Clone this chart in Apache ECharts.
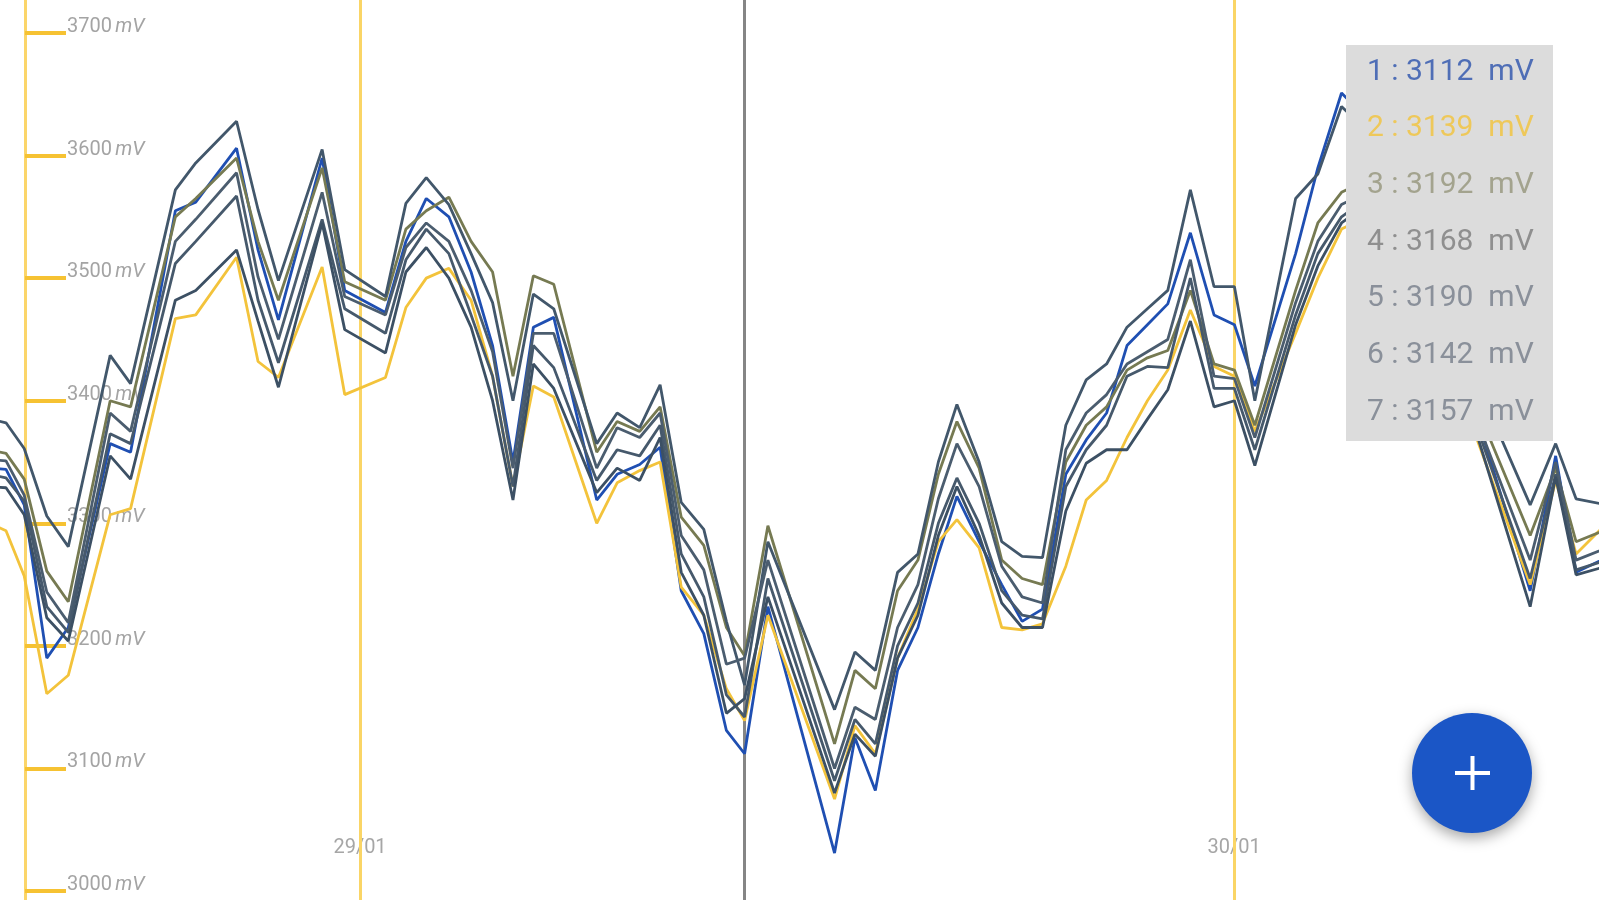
<!DOCTYPE html>
<html>
<head>
<meta charset="utf-8">
<script src="https://cdn.jsdelivr.net/npm/echarts@6/dist/echarts.min.js"></script>
<style>
html,body{margin:0;padding:0;background:#fff;}
#chart{width:1599px;height:900px;}
</style>
</head>
<body>
<div id="chart"></div>
<script>
// time of each sample, in hours since 28/01 00:00
const hours = [13.83,14.28,14.78,15.40,15.99,17.14,17.70,18.93,19.49,20.61,21.20,21.76,22.96,23.58,24.70,25.26,25.82,26.44,27.05,27.64,28.20,28.76,29.32,30.50,31.06,31.68,32.24,32.82,33.44,34.06,34.56,35.20,37.03,37.59,38.15,38.76,39.32,39.88,40.39,41.00,41.62,42.18,42.74,43.38,43.94,44.50,45.06,45.62,46.18,46.80,47.45,48.01,48.57,49.69,50.30,50.95,51.65,52.77,54.59,56.13,56.83,57.39,58.23];

const cell1 = [3345,3344,3315,3190,3215,3365,3358,3555,3562,3606,3523,3466,3598,3490,3472,3530,3565,3550,3505,3445,3350,3460,3468,3319,3340,3348,3362,3245,3210,3131,3112,3232,3031,3125,3082,3180,3215,3275,3322,3285,3250,3220,3230,3340,3368,3390,3445,3462,3479,3537,3470,3462,3412,3520,3590,3651,3630,3590,3395,3245,3355,3260,3272];
const cell2 = [3300,3294,3257,3161,3176,3307,3312,3467,3470,3517,3432,3419,3509,3405,3419,3476,3500,3508,3482,3420,3330,3412,3403,3300,3333,3343,3350,3248,3225,3165,3139,3225,3075,3135,3112,3190,3230,3285,3303,3280,3215,3213,3218,3265,3319,3335,3370,3400,3425,3474,3428,3420,3375,3455,3500,3540,3550,3535,3375,3250,3335,3275,3300];
const cell3 = [3360,3357,3336,3261,3236,3400,3395,3550,3565,3598,3530,3482,3590,3497,3482,3540,3555,3566,3530,3505,3420,3502,3495,3358,3383,3375,3395,3305,3282,3215,3192,3298,3120,3180,3165,3245,3270,3340,3383,3345,3270,3255,3250,3350,3380,3395,3425,3435,3441,3490,3430,3425,3380,3490,3545,3570,3580,3560,3400,3290,3345,3285,3295];
const cell4 = [3385,3382,3361,3306,3281,3437,3414,3572,3594,3628,3556,3498,3605,3507,3485,3561,3582,3560,3520,3480,3400,3487,3475,3365,3390,3378,3413,3317,3295,3220,3168,3285,3148,3195,3180,3260,3275,3350,3397,3350,3285,3273,3272,3380,3417,3430,3460,3475,3490,3572,3493,3493,3400,3565,3585,3640,3620,3600,3420,3315,3365,3320,3315];
const cell5 = [3352,3351,3323,3244,3219,3390,3375,3530,3548,3586,3501,3450,3570,3485,3470,3525,3545,3530,3490,3440,3345,3455,3455,3345,3378,3370,3390,3290,3262,3185,3190,3270,3100,3150,3140,3215,3250,3320,3365,3330,3265,3240,3235,3360,3390,3405,3430,3440,3450,3515,3420,3418,3370,3480,3530,3560,3570,3555,3390,3270,3350,3270,3280];
const cell6 = [3340,3337,3318,3232,3211,3373,3365,3512,3530,3567,3482,3431,3548,3475,3455,3515,3540,3520,3470,3420,3330,3445,3427,3335,3360,3355,3380,3275,3240,3160,3142,3255,3090,3140,3120,3200,3235,3300,3337,3300,3245,3225,3222,3330,3360,3380,3420,3428,3427,3500,3410,3410,3360,3470,3520,3550,3565,3550,3385,3255,3340,3262,3270];
const cell7 = [3330,3329,3307,3223,3204,3355,3336,3482,3490,3523,3465,3411,3545,3458,3439,3505,3525,3500,3460,3400,3319,3430,3410,3325,3345,3335,3370,3260,3225,3145,3157,3240,3080,3128,3110,3190,3225,3290,3330,3290,3235,3215,3215,3310,3349,3360,3360,3385,3409,3465,3395,3400,3347,3462,3510,3545,3560,3545,3380,3232,3338,3258,3265];

const seriesLabels = ['1','2','3','4','5','6','7'];
const seriesColors = ['#1f4fb2','#f3c33b','#767a52','#42576b','#4b5d6f','#46596c','#3c5064'];
const tipColors = ['#4f6eb6','#eec85a','#a3a38e','#8f8f8f','#8a909a','#8a909a','#8a909a'];
const unit = 'mV';

const yTicks = [3000,3100,3200,3300,3400,3500,3600,3700];
const dayTicks = [24,48];
const dayLabels = ['29/01','30/01'];
const cursorIndex = 30;

const allCells = [cell1,cell2,cell3,cell4,cell5,cell6,cell7];

const chart = echarts.init(document.getElementById('chart'), null, {renderer:'canvas'});

const series = allCells.map((vals, i) => ({
  name: seriesLabels[i],
  type: 'line',
  data: hours.map((h, k) => [h, vals[k]]),
  showSymbol: false,
  symbol: 'none',
  smooth: false,
  lineStyle: {color: seriesColors[i], width: 2.8},
  itemStyle: {color: seriesColors[i]},
  z: 5,
  silent: true
}));

// background vertical lines (day separators + cursor)
series.unshift({
  type: 'line',
  data: hours.map((h, k) => [h, cell1[k]]),
  showSymbol: false,
  lineStyle: {opacity: 0},
  z: 1,
  silent: true,
  markLine: {
    silent: true,
    symbol: ['none','none'],
    label: {show: false},
    animation: false,
    data: [
      ...dayTicks.map(d => ({xAxis: d, lineStyle: {color: '#fad566', width: 3, type: 'solid'}})),
      {xAxis: hours[cursorIndex], lineStyle: {color: '#858585', width: 3, type: 'solid'}}
    ]
  }
});

const tipGraphics = [{
  type: 'rect',
  shape: {x: 1346, y: 45, width: 207, height: 396},
  style: {fill: '#dcdcdc'},
  z: 100
}];
allCells.forEach((vals, i) => {
  tipGraphics.push({
    type: 'text',
    x: 1367,
    y: 72 + i * 56.7,
    style: {
      text: seriesLabels[i] + ' : ' + vals[cursorIndex] + '  ' + unit,
      fill: tipColors[i],
      font: '30px Roboto',
      verticalAlign: 'middle'
    },
    z: 101
  });
});

const fab = [
  {
    type: 'circle',
    shape: {cx: 1472, cy: 773, r: 60},
    style: {fill: '#1b56c6', shadowBlur: 14, shadowColor: 'rgba(0,0,0,0.35)', shadowOffsetY: 5},
    z: 100
  },
  {type: 'rect', shape: {x: 1455, y: 771, width: 35, height: 4}, style: {fill: '#ffffff'}, z: 101},
  {type: 'rect', shape: {x: 1470.5, y: 756, width: 4, height: 34}, style: {fill: '#ffffff'}, z: 101}
];

chart.setOption({
  animation: false,
  backgroundColor: '#ffffff',
  grid: {left: 0, right: 0, top: 0, bottom: 0, containLabel: false},
  xAxis: {
    type: 'value',
    min: 14.115,
    max: 58.02,
    axisLine: {show: false},
    axisTick: {show: false},
    splitLine: {show: false},
    axisLabel: {
      customValues: dayTicks,
      inside: true,
      margin: 42,
      color: '#a6a6a6',
      fontSize: 20,
      fontFamily: 'Roboto',
      formatter: v => dayLabels[dayTicks.indexOf(v)] || ''
    }
  },
  yAxis: {
    type: 'value',
    min: 2992.7,
    max: 3726.9,
    offset: -25,
    axisLine: {show: true, lineStyle: {color: '#fbd56a', width: 3}},
    axisTick: {show: true, inside: true, length: 41, customValues: yTicks, lineStyle: {color: '#f6c232', width: 4}},
    splitLine: {show: false},
    axisLabel: {
      customValues: yTicks,
      inside: true,
      margin: 42,
      verticalAlign: 'middle',
      padding: [0, 0, 12, 0],
      formatter: v => '{n|' + v + '} {u|' + unit + '}',
      rich: {
        n: {color: '#a4a4a4', fontSize: 20, fontFamily: 'Roboto'},
        u: {color: '#a4a4a4', fontSize: 20, fontFamily: 'Roboto', fontStyle: 'italic'}
      }
    }
  },
  series: series,
  graphic: tipGraphics.concat(fab)
});
</script>
</body>
</html>
